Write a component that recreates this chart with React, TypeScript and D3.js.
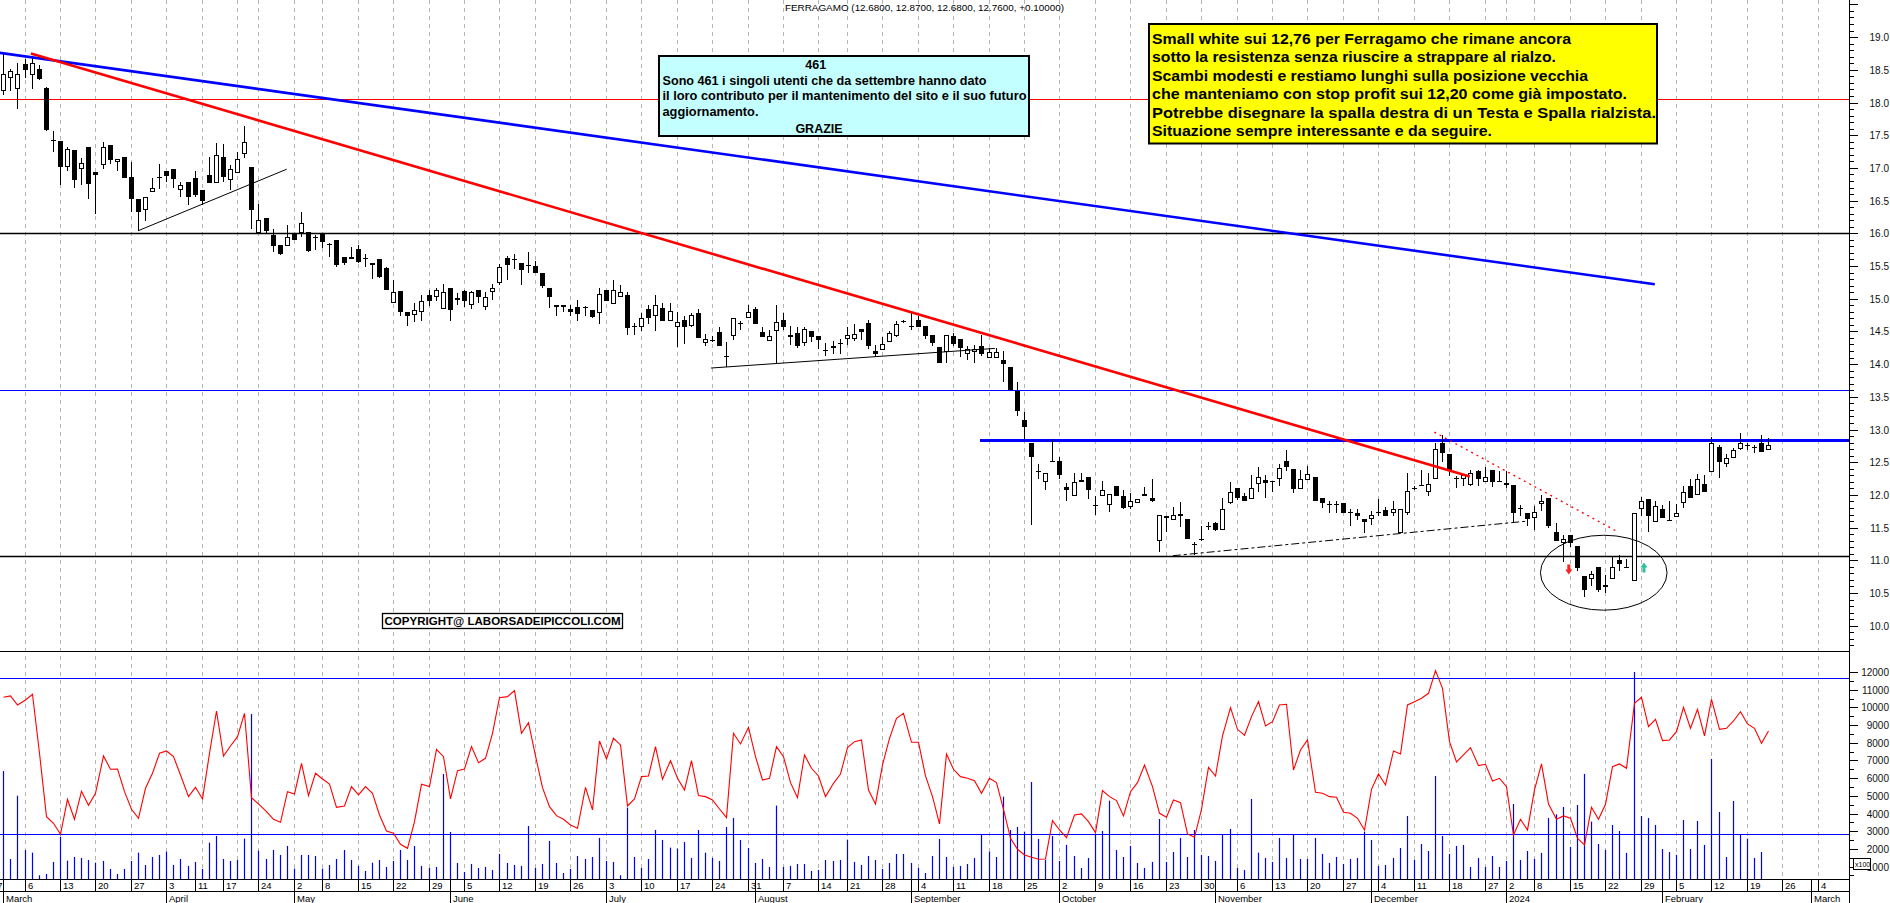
import React from "react";
import * as d3 from "d3";

// daily candles, one per trading day from 1 March 2023 (index 0) to 22 February 2024
const opens = [
  18.18, 18.37, 18.2, 18.59, 18.42, 18.51, 18.22, 17.43, 17.41, 17.02,
  17.27, 16.98, 17.32, 16.93, 17.05, 17.35, 17.09, 17.17, 16.86, 16.53,
  16.35, 16.63, 16.86, 16.96, 16.98, 16.66, 16.78, 16.84, 16.66, 16.89,
  16.77, 17.17, 16.82, 16.92, 17.22, 17.01, 16.0, 16.23, 15.97, 15.82,
  15.81, 16.0, 16.0, 16.02, 15.94, 16.0, 15.83, 15.9, 15.63, 15.61,
  15.76, 15.625, 15.51, 15.6, 15.47, 14.94, 15.12, 14.79, 14.75, 14.8,
  15.05, 15.02, 14.85, 15.16, 15.01, 15.12, 14.9, 15.13, 14.88, 15.1,
  15.24, 15.62, 15.61, 15.55, 15.52, 15.5, 15.39, 15.17, 14.87, 14.9,
  14.84, 14.87, 14.88, 14.83, 14.78, 15.13, 14.92, 15.02, 15.05, 14.585,
  14.57, 14.84, 14.73, 14.86, 14.66, 14.56, 14.67, 14.59, 14.78, 14.32,
  14.375, 14.49, 14.13, 14.43, 14.635, 14.7, 14.84, 14.49, 14.36, 14.51,
  14.67, 14.44, 14.47, 14.32, 14.51, 14.43, 14.215, 14.24, 14.315, 14.38,
  14.38, 14.53, 14.63, 14.2, 14.21, 14.34, 14.43, 14.665, 14.59, 14.67,
  14.58, 14.44, 14.26, 14.19, 14.43, 14.38, 14.16, 14.19, 14.28, 14.1,
  14.1, 14.07, 13.95, 13.59, 13.15, 12.8, 12.37, 12.19, 12.525, 12.52,
  12.12, 11.99, 12.23, 12.27, 11.845, 11.99, 11.84, 12.14, 11.98, 11.82,
  11.87, 11.99, 11.96, 11.29, 11.68, 11.61, 11.71, 11.63, 11.245, 11.325,
  11.525, 11.57, 11.46, 11.87, 12.1, 11.98, 11.93, 12.17, 12.23, 12.22,
  12.24, 12.52, 12.39, 12.09, 12.23, 12.28, 11.96, 11.855, 11.855, 11.87,
  11.745, 11.73, 11.63, 11.63, 11.73, 11.77, 11.73, 11.42, 11.72, 12.1,
  12.15, 12.04, 12.25, 12.79, 12.63, 12.255, 12.25, 12.15, 12.37, 12.19,
  12.38, 12.205, 12.18, 12.15, 11.795, 11.72, 11.64, 11.86, 11.95, 11.43,
  11.26, 11.39, 11.22, 10.76, 10.72, 10.89, 10.59, 10.72, 11.01, 10.89,
  10.69, 11.78, 11.94, 11.59, 11.78, 11.62, 11.66, 11.87, 12.13, 12.0,
  12.16, 12.35, 12.73, 12.48, 12.56, 12.7, 12.765, 12.725, 12.79, 12.68,
];
const highs = [
  18.75, 18.51, 18.6, 18.66, 18.68, 18.57, 18.23, 17.56, 17.41, 17.32,
  17.27, 17.15, 17.32, 16.93, 17.4, 17.35, 17.14, 17.17, 17.09, 16.53,
  16.56, 16.84, 17.06, 16.96, 16.98, 16.79, 16.78, 16.95, 16.66, 17.17,
  17.38, 17.37, 17.04, 17.24, 17.64, 17.01, 16.45, 16.23, 16.06, 15.82,
  16.13, 16.0, 16.33, 16.02, 15.97, 16.0, 15.85, 15.9, 15.63, 15.79,
  15.82, 15.69, 15.54, 15.6, 15.48, 15.29, 15.12, 14.79, 14.93, 15.06,
  15.13, 15.16, 15.23, 15.16, 15.08, 15.13, 15.12, 15.13, 15.11, 15.22,
  15.53, 15.65, 15.69, 15.55, 15.72, 15.57, 15.39, 15.17, 14.9, 14.9,
  14.9, 14.98, 14.89, 14.83, 15.16, 15.13, 15.29, 15.21, 15.11, 14.63,
  14.78, 14.9, 15.06, 14.93, 14.93, 14.79, 14.73, 14.78, 14.85, 14.46,
  14.43, 14.56, 14.34, 14.7, 14.66, 14.9, 14.87, 14.57, 14.52, 14.9,
  14.78, 14.58, 14.56, 14.56, 14.51, 14.43, 14.32, 14.35, 14.38, 14.56,
  14.61, 14.53, 14.67, 14.29, 14.41, 14.51, 14.66, 14.68, 14.79, 14.74,
  14.58, 14.44, 14.26, 14.44, 14.48, 14.38, 14.27, 14.29, 14.44, 14.24,
  14.24, 14.2, 13.95, 13.73, 13.27, 12.8, 12.47, 12.34, 12.85, 12.58,
  12.18, 12.33, 12.34, 12.27, 11.98, 12.21, 12.01, 12.14, 12.08, 12.03,
  11.94, 12.12, 12.24, 11.69, 11.68, 11.82, 11.89, 11.63, 11.28, 11.52,
  11.59, 11.58, 11.95, 12.2, 12.1, 12.03, 12.3, 12.42, 12.3, 12.22,
  12.48, 12.69, 12.39, 12.38, 12.44, 12.28, 11.96, 11.9, 11.91, 11.87,
  11.78, 11.78, 11.63, 11.75, 11.94, 11.82, 11.9, 11.78, 12.34, 12.14,
  12.38, 12.33, 12.79, 12.92, 12.63, 12.29, 12.31, 12.38, 12.38, 12.42,
  12.38, 12.36, 12.36, 12.15, 11.85, 11.72, 11.83, 12.0, 11.95, 11.57,
  11.39, 11.39, 11.22, 10.76, 10.83, 10.89, 10.78, 11.05, 11.08, 11.02,
  11.72, 11.97, 11.94, 11.9, 11.85, 11.91, 11.86, 12.14, 12.24, 12.32,
  12.31, 12.88, 12.76, 12.63, 12.71, 12.95, 12.79, 12.76, 12.92, 12.87,
];
const lows = [
  18.11, 18.17, 17.9, 18.37, 18.2, 18.34, 17.57, 17.25, 16.74, 16.96,
  16.7, 16.74, 16.52, 16.29, 16.99, 17.06, 16.96, 16.84, 16.33, 16.04,
  16.19, 16.63, 16.68, 16.79, 16.69, 16.56, 16.44, 16.56, 16.44, 16.77,
  16.77, 16.79, 16.66, 16.92, 17.15, 16.06, 16.0, 16.01, 15.72, 15.67,
  15.8, 15.9, 15.95, 15.72, 15.74, 15.77, 15.64, 15.49, 15.52, 15.61,
  15.54, 15.49, 15.3, 15.31, 15.13, 14.94, 14.73, 14.59, 14.64, 14.66,
  14.89, 14.96, 14.85, 14.66, 14.9, 14.87, 14.85, 14.93, 14.82, 14.98,
  15.21, 15.29, 15.46, 15.21, 15.4, 15.39, 15.16, 14.86, 14.73, 14.79,
  14.74, 14.66, 14.73, 14.7, 14.62, 14.96, 14.92, 15.02, 14.44, 14.44,
  14.51, 14.62, 14.5, 14.66, 14.66, 14.26, 14.31, 14.57, 14.4, 14.28,
  14.34, 14.28, 13.95, 14.37, 14.52, 14.7, 14.62, 14.42, 14.36, 14.01,
  14.52, 14.29, 14.24, 14.27, 14.34, 14.23, 14.13, 14.16, 14.16, 14.29,
  14.36, 14.37, 14.23, 14.11, 14.21, 14.34, 14.41, 14.63, 14.52, 14.56,
  14.39, 14.27, 14.02, 14.02, 14.27, 14.11, 14.07, 14.02, 14.12, 14.1,
  14.1, 13.73, 13.6, 13.2, 12.85, 11.54, 12.24, 12.08, 12.5, 12.24,
  11.91, 11.99, 12.19, 11.93, 11.69, 11.99, 11.74, 11.98, 11.78, 11.78,
  11.87, 11.99, 11.89, 11.12, 11.44, 11.61, 11.51, 11.32, 11.08, 11.3,
  11.46, 11.45, 11.46, 11.86, 11.92, 11.9, 11.93, 12.05, 11.96, 12.05,
  12.14, 12.37, 12.03, 12.09, 12.23, 11.9, 11.8, 11.72, 11.72, 11.72,
  11.53, 11.62, 11.42, 11.54, 11.68, 11.68, 11.68, 11.41, 11.69, 12.07,
  12.14, 11.98, 12.25, 12.51, 12.29, 12.11, 12.13, 12.14, 12.14, 12.19,
  12.12, 12.19, 12.1, 11.59, 11.67, 11.53, 11.47, 11.76, 11.49, 11.3,
  10.98, 11.2, 10.83, 10.44, 10.6, 10.52, 10.5, 10.72, 10.84, 10.88,
  10.69, 11.68, 11.44, 11.59, 11.64, 11.6, 11.655, 11.8, 11.95, 12.0,
  12.05, 12.35, 12.26, 12.42, 12.56, 12.69, 12.69, 12.64, 12.65, 12.68,
];
const closes = [
  18.44, 18.48, 18.44, 18.49, 18.6, 18.36, 17.58, 17.42, 17.02, 17.29,
  16.81, 17.08, 16.76, 16.89, 17.32, 17.12, 17.13, 16.84, 16.53, 16.33,
  16.56, 16.7, 16.84, 16.88, 16.83, 16.74, 16.55, 16.59, 16.49, 16.77,
  17.19, 16.86, 16.99, 17.13, 17.39, 16.36, 16.2, 16.03, 15.81, 15.69,
  15.94, 15.9, 16.15, 15.73, 15.93, 15.86, 15.82, 15.52, 15.54, 15.64,
  15.56, 15.62, 15.54, 15.33, 15.14, 15.1, 14.8, 14.73, 14.82, 14.97,
  14.96, 15.13, 15.1, 14.82, 14.98, 14.97, 15.1, 15.02, 15.02, 15.16,
  15.48, 15.51, 15.6, 15.44, 15.51, 15.4, 15.19, 15.02, 14.9, 14.87,
  14.8, 14.76, 14.875, 14.72, 15.07, 14.97, 15.14, 15.1, 14.55, 14.58,
  14.71, 14.71, 14.91, 14.66, 14.81, 14.65, 14.56, 14.75, 14.4, 14.39,
  14.37, 14.28, 14.11, 14.7, 14.63, 14.8, 14.62, 14.42, 14.43, 14.64,
  14.57, 14.41, 14.27, 14.53, 14.41, 14.37, 14.21, 14.28, 14.32, 14.44,
  14.46, 14.49, 14.27, 14.15, 14.3, 14.47, 14.62, 14.66, 14.56, 14.56,
  14.43, 14.32, 14.02, 14.44, 14.3, 14.25, 14.23, 14.23, 14.15, 14.19,
  14.18, 14.0, 13.6, 13.28, 13.04, 12.58, 12.365, 12.34, 12.52, 12.31,
  12.07, 12.19, 12.19, 12.08, 11.84, 12.07, 12.01, 11.99, 11.8, 11.9,
  11.93, 12.02, 11.9, 11.69, 11.64, 11.69, 11.67, 11.32, 11.24, 11.33,
  11.53, 11.46, 11.78, 12.05, 11.95, 11.9, 12.1, 12.28, 12.18, 12.19,
  12.41, 12.43, 12.09, 12.24, 12.32, 11.9, 11.88, 11.85, 11.86, 11.73,
  11.74, 11.68, 11.59, 11.69, 11.735, 11.68, 11.78, 11.78, 12.06, 12.095,
  12.155, 12.16, 12.7, 12.64, 12.38, 12.25, 12.3, 12.33, 12.25, 12.27,
  12.19, 12.2, 12.15, 11.73, 11.79, 11.63, 11.74, 11.91, 11.53, 11.3,
  11.32, 11.26, 10.88, 10.54, 10.79, 10.54, 10.62, 10.89, 10.94, 10.885,
  11.72, 11.9, 11.67, 11.83, 11.64, 11.6, 11.73, 12.05, 11.95, 12.24,
  12.05, 12.79, 12.51, 12.56, 12.68, 12.79, 12.76, 12.73, 12.65, 12.76,
];

// lower panel, x100 shares
const volumes = [
  6400, 1430, 5010, 1940, 1790, 510, 585, 1263, 2695, 1338,
  1545, 1489, 1376, 1225, 1319, 867, 585, 867, 1319, 1790,
  1093, 1545, 1658, 1847, 1093, 1432, 1037, 1263, 867, 2356,
  2732, 1432, 1319, 1376, 2582, 9628, 1903, 1432, 1941, 1658,
  2167, 886, 1658, 1658, 1602, 886, 1093, 1432, 1941, 1376,
  1037, 754, 1225, 1376, 980, 1319, 1941, 1376, 2167, 1037,
  924, 980, 6237, 2958, 1206, 698, 1150, 924, 980, 811,
  1715, 1206, 1093, 1037, 3297, 924, 1150, 2450, 1206, 641,
  867, 1602, 1432, 1545, 2619, 1319, 1263, 510, 4334, 1545,
  924, 1432, 3071, 2506, 2073, 2016, 2393, 1489, 3071, 1790,
  1489, 1319, 3241, 3750, 2506, 2054, 1206, 1432, 980, 4447,
  980, 1037, 1150, 1150, 754, 811, 1376, 1319, 1376, 2525,
  1263, 1093, 1602, 1376, 867, 1206, 1715, 1715, 1206, 924,
  641, 1602, 2563, 1545, 980, 1037, 1150, 1489, 2845, 1847,
  1545, 4955, 3071, 3241, 2977, 5784, 2563, 1376, 2732, 1319,
  2224, 1602, 924, 1489, 2827, 3015, 4729, 1941, 1545, 2167,
  1206, 924, 1263, 3693, 1263, 1828, 2619, 1545, 3071, 1658,
  1602, 1319, 2827, 3128, 924, 811, 4824, 1790, 1489, 1263,
  2619, 1489, 2827, 1432, 1432, 2619, 1715, 1206, 1545, 1150,
  1432, 1489, 2977, 2506, 1037, 1093, 1489, 2054, 3863, 1376,
  2280, 1884, 6123, 2732, 1715, 2167, 2224, 980, 1489, 980,
  1602, 980, 1319, 4541, 1376, 1884, 1432, 1771, 3750, 3957,
  4371, 2111, 4484, 6237, 3542, 2280, 1941, 3354, 3015, 1771,
  12002, 3863, 3750, 3354, 1997, 1828, 1658, 3637, 1997, 3580,
  2224, 7084, 4089, 1545, 4710, 2845, 2582, 1489, 1828, 300,
];
const volumeAverage = [
  10570, 10645, 10136, 10419, 10739, 7405, 3825, 3448, 2827, 4805,
  3674, 5257, 4466, 5144, 7254, 6500, 6519, 5238, 4239, 3731,
  5427, 6274, 7405, 7536, 7216, 6180, 4955, 5483, 4824, 7405,
  9797, 7254, 7819, 8347, 9665, 4899, 4541, 4108, 3674, 3505,
  5238, 5106, 6839, 5012, 6274, 5954, 5671, 4352, 4428, 5521,
  5050, 5521, 5144, 3919, 3015, 2883, 2261, 2035, 3542, 5652,
  5521, 7631, 7216, 4824, 6425, 6519, 7781, 6877, 7122, 8535,
  10551, 10607, 10946, 8535, 9138, 7254, 5464, 4390, 3882, 3674,
  3354, 3166, 5483, 4202, 8102, 7084, 8252, 7876, 4428, 4824,
  6086, 6123, 7781, 5935, 6990, 5991, 5332, 6990, 5012, 4955,
  4767, 4258, 3768, 8535, 7932, 8874, 7216, 5897, 5991, 7781,
  7216, 5747, 4899, 7310, 6557, 6123, 4955, 5709, 6237, 7725,
  8064, 8158, 5332, 4541, 6745, 8252, 9383, 9665, 8026, 8026,
  6123, 4955, 3411, 7367, 6500, 6086, 5991, 5860, 5144, 5991,
  5747, 4239, 2600, 1979, 1658, 1527, 1413, 1432, 3599, 3071,
  2638, 3919, 3976, 3542, 2921, 5295, 4955, 4729, 3863, 5238,
  5747, 6745, 5521, 4013, 3787, 4767, 4616, 2845, 2657, 4239,
  6613, 6123, 8384, 9986, 8761, 8422, 9477, 10325, 8949, 9194,
  10136, 10174, 6463, 7593, 8158, 5200, 5144, 4955, 4918, 4070,
  4013, 3731, 3071, 5370, 6237, 5615, 7536, 7367, 10136, 10325,
  10513, 10796, 12077, 11078, 8064, 6915, 7310, 7725, 6707, 6783,
  5841, 5991, 5521, 2789, 3674, 3071, 5332, 6802, 4541, 3674,
  3863, 3731, 2600, 2224, 4352, 3674, 4522, 6651, 6802, 6557,
  10231, 10570, 8912, 9326, 8121, 8158, 8629, 10004, 8818, 9891,
  8384, 10457, 8761, 8818, 9232, 9760, 9062, 8818, 7970, 8667,
];

// date axis (trading-day index -> label)
const weekIdx = [-2, 3, 8, 13, 18, 23, 27, 31, 36, 41, 45, 50, 55, 60, 65, 70, 75, 80, 85, 90, 95, 100, 105, 110, 115, 119, 124, 129, 134, 139, 144, 149, 154, 159, 164, 169, 174, 179, 184, 189, 194, 199, 204, 209, 212, 216, 221, 226, 231, 236, 241, 246, 251, 256];
const weekLabels = ["27", "6", "13", "20", "27", "3", "11", "17", "24", "2", "8", "15", "22", "29", "5", "12", "19", "26", "3", "10", "17", "24", "31", "7", "14", "21", "28", "4", "11", "18", "25", "2", "9", "16", "23", "30", "6", "13", "20", "27", "4", "11", "18", "27", "2", "8", "15", "22", "29", "5", "12", "19", "26", "4"];
const gridIdx = [3, 8, 13, 18, 23, 28, 33, 36, 41, 45, 50, 55, 60, 65, 70, 75, 80, 85, 90, 95, 100, 105, 110, 115, 119, 124, 129, 134, 139, 144, 149, 154, 159, 164, 169, 174, 179, 184, 189, 194, 199, 204, 209, 212, 216, 221, 226, 231, 236, 241, 246, 251, 256];
const monthIdx = [0, 23, 41, 63, 85, 106, 128, 149, 171, 193, 212, 234, 255];
const monthLabels = ["March", "April", "May", "June", "July", "August", "September", "October", "November", "December", "2024", "February", "March"];

// drawn studies: [index, price] end points
const blueTrend = [[-0.5, 18.76], [233, 15.22]];
const redTrend = [[3.9, 18.75], [206.9, 12.28]];
const aprilSupport = [[19.05, 16.04], [39.98, 16.98]];
const augustSupport = [[99.85, 13.94], [139.9, 14.24]];
const autumnSupport = [[165, 11.07], [215.1, 11.6]];
const decemberResistance = [[201.9, 12.96], [227.7, 11.44]];
const resistanceStart = 137.8;
const levelRed = 18.05;
const levelBlack = [16.0, 11.07];
const levelBlue = 13.6;
const levelResistance = 12.83;
const volumeLevels = [11650, 2850];
const circleCenter = [225.8, 10.81];
const circleRadius = [8.93, 0.573];
const arrowDown = [220.8, 10.86];
const arrowUp = [231.4, 10.89];

const noteLines = [
  "Small white sui 12,76 per Ferragamo che rimane ancora",
  "sotto la resistenza senza riuscire a strappare al rialzo.",
  "Scambi modesti e restiamo lunghi sulla posizione vecchia",
  "che manteniamo con stop profit sui 12,20 come già impostato.",
  "Potrebbe disegnare la spalla destra di un Testa e Spalla rialzista.",
  "Situazione sempre interessante e da seguire.",
];
const noteWidths = [419, 404, 436, 475, 504, 340];
const thanksLines = [
  "Sono 461 i singoli utenti che da settembre hanno dato",
  "il loro contributo per il mantenimento del sito e il suo futuro",
  "aggiornamento.",
];
const thanksWidths = [324, 364, 96];

const W = 1890;
const H = 903;
const axisX = 1850;
const plotBottom = 879;
const volTop = 651;
const font = "Arial, 'Liberation Sans', sans-serif";

export default function App() {
  const x = d3.scaleLinear().domain([0, 256]).range([3.3, 1817.8]);
  const y = d3.scaleLinear().domain([10, 19]).range([625.7, 37.1]);
  const yv = d3.scaleLinear().domain([0, 12000]).range([884.3, 672]);
  const col = (i: number) => Math.round(x(i));
  const ry = (v: number) => Math.round(y(v)) + 0.5;

  const seg = (pts: number[][]) => ({
    x1: x(pts[0][0]),
    y1: y(pts[0][1]),
    x2: x(pts[1][0]),
    y2: y(pts[1][1]),
  });

  const avgLine = d3
    .line<number>()
    .x((_, i) => col(i) + 0.5)
    .y((d) => yv(d))(volumeAverage);

  const priceTicks = d3.range(97, 196);
  const volTicks = d3.range(1, 25).map((k) => k * 500);

  const ex = x(circleCenter[0]);
  const ey = y(circleCenter[1]);
  const erx = x(circleCenter[0] + circleRadius[0]) - ex;
  const ery = y(circleCenter[1] - circleRadius[1]) - ey;

  const adx = x(arrowDown[0]);
  const ady = y(arrowDown[1]);
  const aux = x(arrowUp[0]);
  const auy = y(arrowUp[1]);

  return (
    <div style={{ position: "absolute", left: 0, top: 0, width: W, height: H, background: "#fff" }}>
      <svg width={W} height={H} style={{ display: "block", fontFamily: font }}>
        <rect x={0} y={0} width={W} height={H} fill="#fff" />

        {/* weekly grid */}
        {gridIdx.map((g) => (
          <line
            key={"g" + g}
            x1={col(g) + 0.5}
            x2={col(g) + 0.5}
            y1={0}
            y2={plotBottom}
            stroke="#b4b4b4"
            strokeDasharray="4,4"
          />
        ))}

        {/* horizontal levels */}
        <line x1={0} x2={axisX} y1={ry(levelRed)} y2={ry(levelRed)} stroke="#ff0000" />
        {levelBlack.map((l) => (
          <line key={"lb" + l} x1={0} x2={axisX} y1={ry(l)} y2={ry(l)} stroke="#000" strokeWidth={1.3} />
        ))}
        <line x1={0} x2={axisX} y1={ry(levelBlue)} y2={ry(levelBlue)} stroke="#0000ff" />
        <line
          x1={x(resistanceStart)}
          x2={axisX}
          y1={y(levelResistance)}
          y2={y(levelResistance)}
          stroke="#0000ff"
          strokeWidth={3}
        />

        {/* candles */}
        {opens.map((o, i) => {
          const c = closes[i];
          const cx = col(i);
          const top = Math.round(y(Math.max(o, c)));
          const bot = Math.round(y(Math.min(o, c)));
          const hy = Math.round(y(Math.max(highs[i], o, c)));
          const ly = Math.round(y(Math.min(lows[i], o, c)));
          const up = c >= o;
          return (
            <g key={"c" + i}>
              <line x1={cx + 0.5} x2={cx + 0.5} y1={hy} y2={Math.max(ly, hy + 1)} stroke="#000" />
              {bot - top <= 2 ? (
                <rect x={cx - 2} y={top} width={5} height={Math.max(1, bot - top)} fill="#000" />
              ) : up ? (
                <rect x={cx - 1.5} y={top + 0.5} width={4} height={bot - top - 1} fill="#fff" stroke="#000" />
              ) : (
                <rect x={cx - 2} y={top} width={5} height={bot - top} fill="#000" />
              )}
            </g>
          );
        })}

        {/* trend lines */}
        <line {...seg(blueTrend)} stroke="#0000ff" strokeWidth={2.6} />
        <line {...seg(redTrend)} stroke="#ff0000" strokeWidth={2.6} />
        <line {...seg(aprilSupport)} stroke="#000" strokeWidth={1} />
        <line {...seg(augustSupport)} stroke="#000" strokeWidth={1} />
        <line {...seg(autumnSupport)} stroke="#000" strokeWidth={1} strokeDasharray="8,3,3,3" />
        <line {...seg(decemberResistance)} stroke="#ff0000" strokeWidth={1.3} strokeDasharray="2,4" />

        <ellipse cx={ex} cy={ey} rx={erx} ry={ery} fill="none" stroke="#000" strokeWidth={1} />
        <path
          d={`M${adx - 1},${ady - 5} h3 v5 h2 l-3.5,5 l-3.5,-5 h2 z`}
          fill="#ff2020"
        />
        <path
          d={`M${aux - 1},${auy + 5} h3 v-5 h2 l-3.5,-5 l-3.5,5 h2 z`}
          fill="#30c0a0"
        />

        {/* volume panel */}
        <line x1={0} x2={axisX} y1={volTop + 0.5} y2={volTop + 0.5} stroke="#000" />
        {volumeLevels.map((v) => (
          <line key={"vl" + v} x1={0} x2={axisX} y1={Math.round(yv(v)) + 0.5} y2={Math.round(yv(v)) + 0.5} stroke="#0000ff" strokeWidth={1.2} />
        ))}
        {volumes.map((v, i) => (
          <line
            key={"v" + i}
            x1={col(i) + 0.5}
            x2={col(i) + 0.5}
            y1={plotBottom}
            y2={Math.min(plotBottom, yv(v))}
            stroke="#0000ff"
            strokeWidth={1.2}
          />
        ))}
        <path d={avgLine ?? ""} fill="none" stroke="#ff0000" strokeWidth={1.1} />

        {/* right axis */}
        <line x1={axisX - 0.5} x2={axisX - 0.5} y1={0} y2={H} stroke="#000" />
        {priceTicks.map((k) => {
          const v = k / 10;
          const major = k % 5 === 0;
          const ty = ry(v);
          return (
            <g key={"pt" + k}>
              <line x1={axisX} x2={axisX + (major ? 8 : 4)} y1={ty} y2={ty} stroke="#000" />
              {major && k >= 100 && k <= 190 && (
                <text x={1889} y={ty + 3.5} fontSize={10} textAnchor="end" fill="#111">
                  {v.toFixed(1)}
                </text>
              )}
            </g>
          );
        })}
        {volTicks.map((v) => {
          const major = v % 1000 === 0;
          const ty = Math.round(yv(v)) + 0.5;
          return (
            <g key={"vt" + v}>
              <line x1={axisX} x2={axisX + (major ? 8 : 4)} y1={ty} y2={ty} stroke="#000" />
              {major && (
                <text x={1889} y={ty + 3.5} fontSize={10} textAnchor="end" fill="#111">
                  {v}
                </text>
              )}
            </g>
          );
        })}
        <rect x={1853.5} y={858.5} width={17} height={11} fill="#fff" stroke="#000" />
        <text x={1855} y={867} fontSize={7}>
          x100
        </text>

        {/* date axis */}
        <line x1={0} x2={axisX} y1={plotBottom + 0.5} y2={plotBottom + 0.5} stroke="#000" />
        <line x1={0} x2={axisX} y1={891.5} y2={891.5} stroke="#000" />
        {weekIdx.map((w, k) => (
          <g key={"w" + k}>
            <line x1={col(w) + 0.5} x2={col(w) + 0.5} y1={plotBottom} y2={891} stroke="#000" />
            <text x={col(w) + 3} y={888.5} fontSize={9.5}>
              {weekLabels[k]}
            </text>
          </g>
        ))}
        {monthIdx.map((m, k) => (
          <g key={"m" + k}>
            <line x1={col(m) + 0.5} x2={col(m) + 0.5} y1={plotBottom} y2={H} stroke="#000" />
            <text x={col(m) + 3} y={901.5} fontSize={9.5}>
              {monthLabels[k]}
            </text>
          </g>
        ))}

        {/* title */}
        <text x={785} y={11} fontSize={9.5} textLength={279} lengthAdjust="spacingAndGlyphs">
          FERRAGAMO (12.6800, 12.8700, 12.6800, 12.7600, +0.10000)
        </text>

        {/* thanks box */}
        <rect x={659} y={56} width={370} height={80} fill="#c4ffff" stroke="#000" strokeWidth={2} />
        <text x={815.7} y={68.5} fontSize={12.5} fontWeight="bold" textAnchor="middle">
          461
        </text>
        {thanksLines.map((t, k) => (
          <text
            key={"t" + k}
            x={662.5}
            y={85 + k * 15.3}
            fontSize={12.5}
            fontWeight="bold"
            textLength={thanksWidths[k]}
            lengthAdjust="spacingAndGlyphs"
          >
            {t}
          </text>
        ))}
        <text x={819} y={133} fontSize={12.5} fontWeight="bold" textAnchor="middle">
          GRAZIE
        </text>

        {/* comment box */}
        <rect x={1149} y={24} width={508} height={119.5} fill="#ffff00" stroke="#000" strokeWidth={2} />
        {noteLines.map((t, k) => (
          <text
            key={"n" + k}
            x={1152}
            y={44 + k * 18.4}
            fontSize={14}
            fontWeight="bold"
            textLength={noteWidths[k]}
            lengthAdjust="spacingAndGlyphs"
          >
            {t}
          </text>
        ))}

        {/* copyright */}
        <rect x={382.5} y={613.5} width={240} height={15} fill="#fff" stroke="#000" strokeWidth={1.3} />
        <text x={384.5} y={625} fontSize={11.5} fontWeight="bold" textLength={236} lengthAdjust="spacingAndGlyphs">
          COPYRIGHT@ LABORSADEIPICCOLI.COM
        </text>
      </svg>
    </div>
  );
}
